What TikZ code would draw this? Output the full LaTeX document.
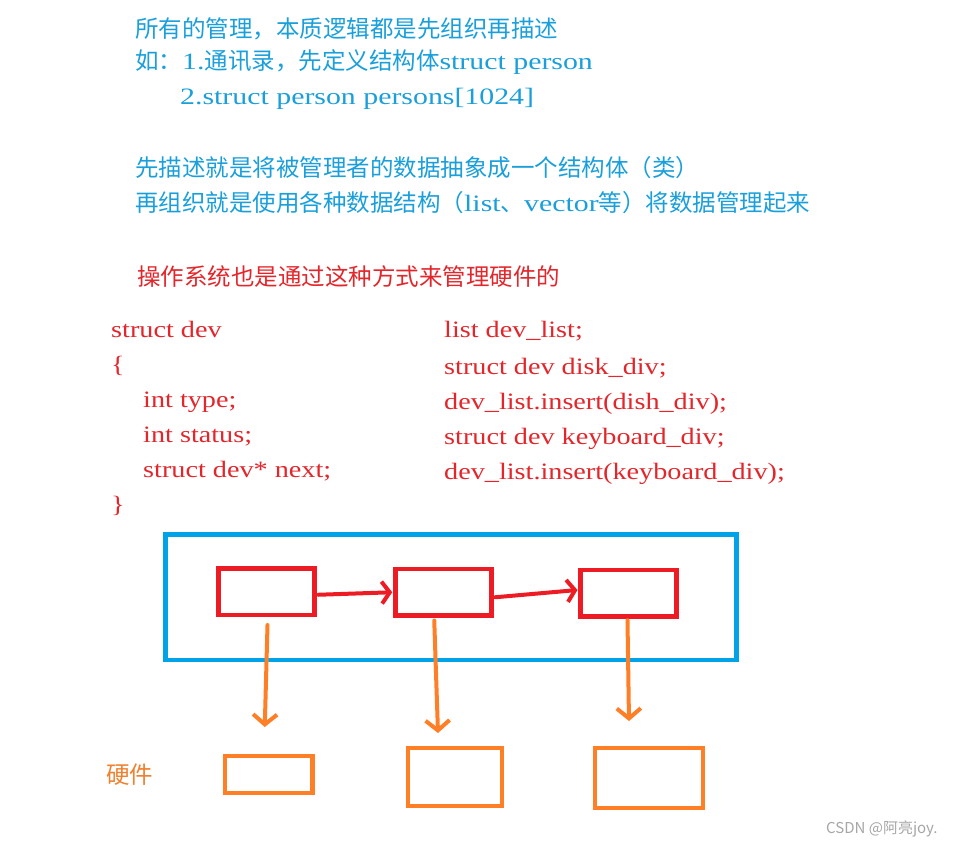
\documentclass[tikz,border=0pt]{standalone}
\usepackage{fontspec}
\setmainfont{Liberation Serif}[FakeStretch=1.27]
\newfontfamily\codefont{Liberation Serif}[FakeStretch=1.2]
\newfontfamily\cjk{Noto Sans CJK SC}
\usepackage{tikz}
\usetikzlibrary{arrows.meta,positioning,calc}
\definecolor{paintblue}{HTML}{00A2E8}
\definecolor{paintred}{HTML}{ED1C24}
\definecolor{paintorange}{HTML}{FF7F27}
\definecolor{txtblue}{HTML}{1A9FDB}
\definecolor{txtred}{HTML}{E3262B}
\definecolor{txtorange}{HTML}{F0802E}

\begin{document}
\begin{tikzpicture}[x=1pt, y=-1pt,
    txt/.style={anchor=base west, inner sep=0pt, font=\fontsize{23.5}{28}\selectfont},
    note/.style={txt, text=txtblue},
    code/.style={txt, text=txtred, font=\codefont\fontsize{23.5}{28}\selectfont},
    listbox/.style={rectangle, draw=paintblue, line width=4.5pt, inner sep=0pt, outer sep=0pt},
    devbox/.style={rectangle, draw=paintred, line width=4.5pt, inner sep=0pt, outer sep=0pt,
                   minimum width=96pt, minimum height=46.5pt},
    hwbox/.style={rectangle, draw=paintorange, line width=4.5pt, inner sep=0pt, outer sep=0pt},
    nextarr/.style={-{Straight Barb[length=8pt, width=22pt]}, line width=4pt, paintred, line cap=round},
    hwarr/.style={-{Straight Barb[length=10pt, width=24pt]}, line width=4pt, paintorange, line cap=round}
]
\useasboundingbox (0,0) rectangle (956,846);

% blue notes
\node[note] (t1) at (135,37) {\cjk 所有的管理，本质逻辑都是先组织再描述};
\node[note] (t2) at (135,69) {{\cjk 如：}1.{\cjk 通讯录，先定义结构体}struct person};
\node[note] (t3) at (180,104) {2.struct person persons[1024]};
\node[note] (t4) at (135,176) {\cjk 先描述就是将被管理者的数据抽象成一个结构体（类）};
\node[note] (t5) at (135,211) {{\cjk 再组织就是使用各种数据结构（}list{\cjk 、}vector{\cjk 等）将数据管理起来}};
\node[txt, text=txtred] (t6) at (137,285) {\cjk 操作系统也是通过这种方式来管理硬件的};

% struct dev
\node[code] (c1) at (111,337) {struct dev};
\node[code] (c2) at (111,372) {\{};
\node[code] (c3) at (143,407) {int type;};
\node[code] (c4) at (143,442) {int status;};
\node[code] (c5) at (143,477) {struct dev* next;};
\node[code] (c6) at (111,512) {\}};

% list usage
\node[code] (d1) at (444,337) {list dev\_list;};
\node[code] (d2) at (444,374) {struct dev disk\_div;};
\node[code] (d3) at (444,409) {dev\_list.insert(dish\_div);};
\node[code] (d4) at (444,444) {struct dev keyboard\_div;};
\node[code] (d5) at (444,479) {dev\_list.insert(keyboard\_div);};

% the list and its nodes
\node[listbox, minimum width=571pt, minimum height=125.5pt] (lst) at (451,597.25) {};
\node[devbox] (n1) at (266.5,591.75) {};
\node[devbox] (n2) at (443.25,592.25) {};
\node[devbox] (n3) at (628.5,593) {};

\draw[nextarr] ($(n1.east)+(4,3)$) -- ($(n2.west)+(-3,0)$);
\draw[nextarr] ($(n2.east)+(4,5)$) -- ($(n3.west)+(-3,-3)$);

% hardware
\node[hwbox, minimum width=87.5pt, minimum height=37pt] (hw1) at (268.75,774.5) {};
\node[hwbox, minimum width=94pt, minimum height=58pt] (hw2) at (455,777) {};
\node[hwbox, minimum width=108pt, minimum height=60pt] (hw3) at (649,778) {};
\node[txt, text=txtorange] (hwl) at (106,783) {\cjk 硬件};

\draw[hwarr] ($(n1.south)+(1,10)$) -- ($(hw1.north)+(-4,-29)$);
\draw[hwarr] ($(n2.south)+(-9,5)$) -- ($(hw2.north)+(-17,-15)$);
\draw[hwarr] ($(n3.south)+(-1,4)$) -- ($(hw3.north)+(-20,-27)$);

\node[anchor=west, inner sep=0pt, text=gray!70, font=\cjk\fontsize{15}{17}\selectfont] (wm) at (826,829) {CSDN @阿亮joy.};
\end{tikzpicture}
\end{document}
